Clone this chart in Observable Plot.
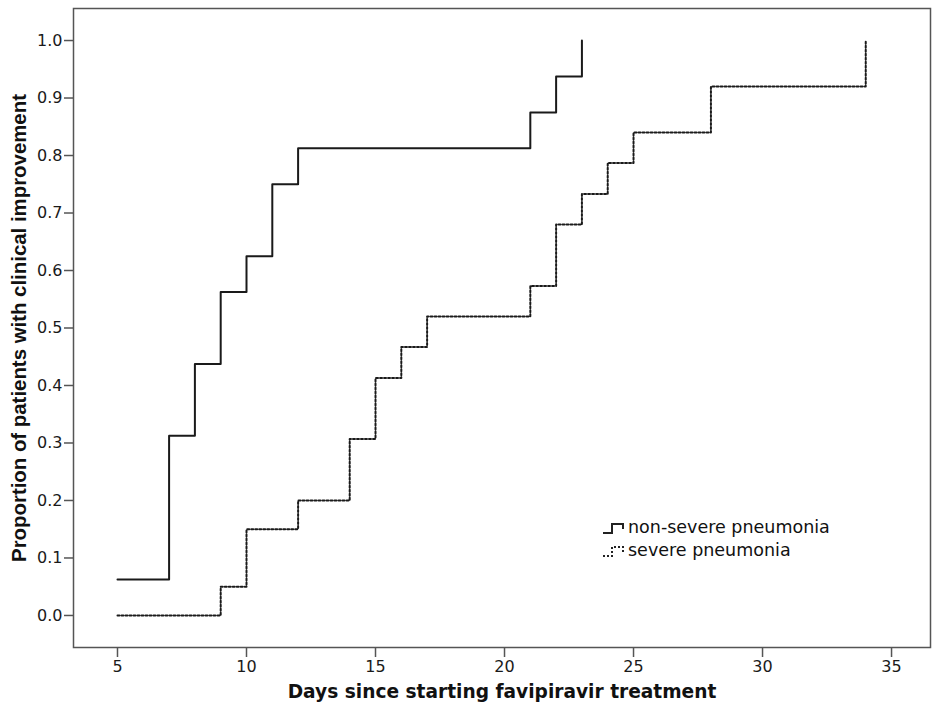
<!DOCTYPE html>
<html><head><meta charset="utf-8">
<script src="https://cdn.jsdelivr.net/npm/d3@7"></script>
<script src="https://cdn.jsdelivr.net/npm/@observablehq/plot@0.6"></script>
<style>
body{margin:0;background:#fff;font-family:"DejaVu Sans",sans-serif;}
#wrap{position:relative;width:932px;height:706px;}
svg text{font-family:"DejaVu Sans",sans-serif;font-size:16px;fill:#1a1a1a;}
g[aria-label="y-axis label"] text{font-family:"Liberation Sans",Arial,sans-serif;font-weight:bold;font-size:20.4px;fill:#111;}
g[aria-label="x-axis label"] text{font-family:"DejaVu Sans",sans-serif;font-weight:bold;font-size:18.6px;fill:#111;}
#legend{position:absolute;left:602px;top:516px;font-size:17.5px;color:#111;line-height:23px;}
#legend div{display:flex;align-items:center;}
</style></head>
<body><div id="wrap"><div id="legend"></div></div>
<script>
const nonSevereDays = [5, 7, 8, 9, 10, 11, 12, 21, 22, 23];
const nonSevereProp = [0.0625, 0.3125, 0.4375, 0.5625, 0.625, 0.75, 0.8125, 0.875, 0.9375, 1.0];
const severeDays = [5, 9, 10, 12, 14, 15, 16, 17, 21, 22, 23, 24, 25, 28, 34];
const severeProp = [0.0, 0.05, 0.15, 0.2, 0.307, 0.413, 0.467, 0.52, 0.573, 0.68, 0.733, 0.787, 0.84, 0.92, 1.0];
const xTicks = [5, 10, 15, 20, 25, 30, 35];
const yTicks = [0, 0.1, 0.2, 0.3, 0.4, 0.5, 0.6, 0.7, 0.8, 0.9, 1.0];
const seriesNames = ["non-severe pneumonia", "severe pneumonia"];

const nonSevere = nonSevereDays.map((d, i) => ({day: d, p: nonSevereProp[i]}));
const severe = severeDays.map((d, i) => ({day: d, p: severeProp[i]}));

const plot = Plot.plot({
  width: 932, height: 706,
  marginLeft: 73, marginRight: 2, marginTop: 8, marginBottom: 59,
  style: {fontFamily: '"DejaVu Sans", sans-serif', fontSize: "16px", color: "#222", background: "#fff"},
  x: {domain: [3.295, 36.51]},
  y: {domain: [-0.0557, 1.0557]},
  marks: [
    Plot.frame({stroke: "#555", strokeWidth: 1.5}),
    Plot.axisX({ticks: xTicks, tickSize: 10, tickPadding: 3, stroke: "#555", strokeWidth: 1.5,
      label: "Days since starting favipiravir treatment", labelAnchor: "center", labelOffset: 50, labelArrow: "none"}),
    Plot.axisY({ticks: yTicks, tickSize: 9, tickPadding: 2, stroke: "#555", strokeWidth: 1.5,
      tickFormat: d3.format(".1f"),
      label: "Proportion of patients with clinical improvement", labelAnchor: "center", labelOffset: 62, labelArrow: "none"}),
    Plot.line(severe, {x: "day", y: "p", curve: "step-after", stroke: "#1a1a1a", strokeWidth: 2, strokeDasharray: "2,2"}),
    Plot.line(nonSevere, {x: "day", y: "p", curve: "step-after", stroke: "#1a1a1a", strokeWidth: 2})
  ]
});
document.getElementById("wrap").prepend(plot);

const legend = document.getElementById("legend");
seriesNames.forEach((name, i) => {
  const row = document.createElement("div");
  const dash = i === 0 ? "" : 'stroke-dasharray="2,2"';
  row.innerHTML = `<svg width="26" height="14"><path d="M1,12H10V3H21V8" fill="none" stroke="#222" stroke-width="2" ${dash}/></svg><span>${name}</span>`;
  legend.appendChild(row);
});
</script>
</body></html>
